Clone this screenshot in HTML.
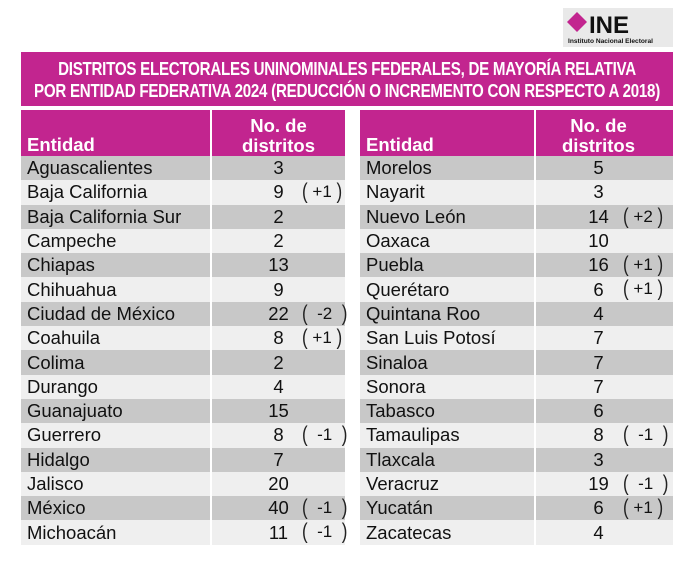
<!DOCTYPE html><html><head><style>
body{margin:0;width:700px;height:574px;background:#fff;font-family:"Liberation Sans",sans-serif;position:relative;overflow:hidden}
.logo{position:absolute;left:563px;top:8px;width:110px;height:39px;background:#e9e9e9}
.title{position:absolute;left:21px;top:52px;width:652px;height:54px;background:#c2258f;overflow:hidden}
.title div{position:absolute;left:-62px;width:776px;color:#fff;font-weight:bold;font-size:18px;text-align:center;line-height:22px;top:6px;transform:scaleX(0.84);letter-spacing:-0.3px;white-space:nowrap}
table{position:absolute;top:110px;border-collapse:collapse;font-size:18.5px;color:#111}
th{background:#c2258f;color:#fff;font-weight:bold;height:45px;padding:0 6px;font-size:18.5px;line-height:20px;vertical-align:bottom;padding-bottom:1px}
td{height:24.3px;padding:0 6px;line-height:22px;position:relative}
tr:nth-child(even) td{background:#c8c8c8}
tr:nth-child(odd) td{background:#efefef}
th.n,td.n{text-align:center;padding:0}
.r th.n,.r td.n{padding-right:12px}
th:first-child,td:first-child{border-right:2px solid #fff}
.c{position:absolute;top:0;font-size:17px;white-space:nowrap;line-height:24px}
.c b{font-weight:normal;display:inline-block;transform:scaleY(1.3);color:#222}
</style></head><body>
<div class="logo"><svg width="110" height="39"><polygon points="14,4 24,14 14,24 4,14" fill="#c2258f"/><text x="26" y="25" font-family="Liberation Sans" font-weight="bold" font-size="24" fill="#111">INE</text><text x="5" y="35" font-family="Liberation Sans" font-weight="bold" font-size="6.6" fill="#111">Instituto Nacional Electoral</text></svg></div>
<div class="title"><div>DISTRITOS ELECTORALES UNINOMINALES FEDERALES, DE MAYORÍA RELATIVA<br>POR ENTIDAD FEDERATIVA 2024 (REDUCCIÓN O INCREMENTO CON RESPECTO A 2018)</div></div>
<table style="left:21px;width:324px">
<tr><th style="width:177px;text-align:left">Entidad</th><th class="n">No. de<br>distritos</th></tr>
<tr><td>Aguascalientes</td><td class="n">3</td></tr>
<tr><td>Baja California</td><td class="n">9<span class="c" style="left:90px"><b>(</b> +1 <b>)</b></span></td></tr>
<tr><td>Baja California Sur</td><td class="n">2</td></tr>
<tr><td>Campeche</td><td class="n">2</td></tr>
<tr><td>Chiapas</td><td class="n">13</td></tr>
<tr><td>Chihuahua</td><td class="n">9</td></tr>
<tr><td>Ciudad de México</td><td class="n">22<span class="c" style="left:90px"><b>(</b>&nbsp; -2 &nbsp;<b>)</b></span></td></tr>
<tr><td>Coahuila</td><td class="n">8<span class="c" style="left:90px"><b>(</b> +1 <b>)</b></span></td></tr>
<tr><td>Colima</td><td class="n">2</td></tr>
<tr><td>Durango</td><td class="n">4</td></tr>
<tr><td>Guanajuato</td><td class="n">15</td></tr>
<tr><td>Guerrero</td><td class="n">8<span class="c" style="left:90px"><b>(</b>&nbsp; -1 &nbsp;<b>)</b></span></td></tr>
<tr><td>Hidalgo</td><td class="n">7</td></tr>
<tr><td>Jalisco</td><td class="n">20</td></tr>
<tr><td>México</td><td class="n">40<span class="c" style="left:90px"><b>(</b>&nbsp; -1 &nbsp;<b>)</b></span></td></tr>
<tr><td>Michoacán</td><td class="n">11<span class="c" style="left:90px"><b>(</b>&nbsp; -1 &nbsp;<b>)</b></span></td></tr>
</table>
<table class="r" style="left:360px;width:313px">
<tr><th style="width:162px;text-align:left">Entidad</th><th class="n">No. de<br>distritos</th></tr>
<tr><td>Morelos</td><td class="n">5</td></tr>
<tr><td>Nayarit</td><td class="n">3</td></tr>
<tr><td>Nuevo León</td><td class="n">14<span class="c" style="left:87px"><b>(</b> +2 <b>)</b></span></td></tr>
<tr><td>Oaxaca</td><td class="n">10</td></tr>
<tr><td>Puebla</td><td class="n">16<span class="c" style="left:87px"><b>(</b> +1 <b>)</b></span></td></tr>
<tr><td>Querétaro</td><td class="n">6<span class="c" style="left:87px"><b>(</b> +1 <b>)</b></span></td></tr>
<tr><td>Quintana Roo</td><td class="n">4</td></tr>
<tr><td>San Luis Potosí</td><td class="n">7</td></tr>
<tr><td>Sinaloa</td><td class="n">7</td></tr>
<tr><td>Sonora</td><td class="n">7</td></tr>
<tr><td>Tabasco</td><td class="n">6</td></tr>
<tr><td>Tamaulipas</td><td class="n">8<span class="c" style="left:87px"><b>(</b>&nbsp; -1 &nbsp;<b>)</b></span></td></tr>
<tr><td>Tlaxcala</td><td class="n">3</td></tr>
<tr><td>Veracruz</td><td class="n">19<span class="c" style="left:87px"><b>(</b>&nbsp; -1 &nbsp;<b>)</b></span></td></tr>
<tr><td>Yucatán</td><td class="n">6<span class="c" style="left:87px"><b>(</b> +1 <b>)</b></span></td></tr>
<tr><td>Zacatecas</td><td class="n">4</td></tr>
</table>
</body></html>
